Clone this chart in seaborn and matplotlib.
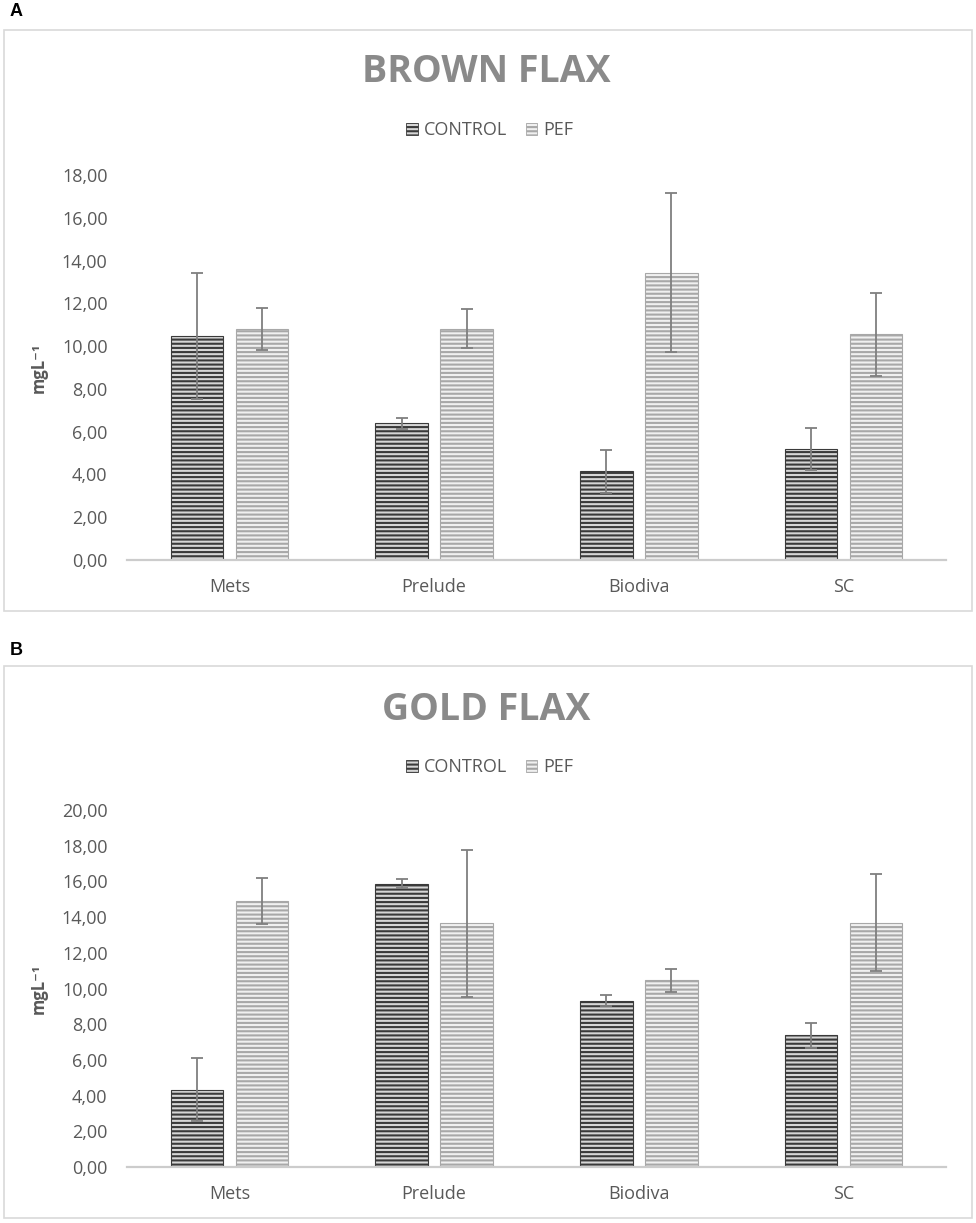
import matplotlib
matplotlib.use("Agg")
import matplotlib.pyplot as plt
from matplotlib.patches import Rectangle, Patch
from matplotlib.ticker import FuncFormatter, MultipleLocator
import seaborn as sns
import pandas as pd

# ---------------- data ----------------
varieties = ["Mets", "Prelude", "Biodiva", "SC"]
treatments = ["CONTROL", "PEF"]

brown_control = [10.48, 6.39, 4.14, 5.19]
brown_control_err = [2.95, 0.26, 1.00, 1.00]
brown_pef = [10.78, 10.81, 13.43, 10.55]
brown_pef_err = [0.98, 0.92, 3.72, 1.94]

gold_control = [4.33, 15.87, 9.31, 7.37]
gold_control_err = [1.76, 0.25, 0.30, 0.69]
gold_pef = [14.88, 13.65, 10.45, 13.69]
gold_pef_err = [1.29, 4.12, 0.62, 2.70]

panels = [
    dict(tag="A", title="BROWN FLAX", control=brown_control, control_err=brown_control_err,
         pef=brown_pef, pef_err=brown_pef_err, ymax=18),
    dict(tag="B", title="GOLD FLAX", control=gold_control, control_err=gold_control_err,
         pef=gold_pef, pef_err=gold_pef_err, ymax=20),
]

# ---------------- style ----------------
sns.set_theme(style="white")
plt.rcParams["font.family"] = ["Open Sans", "DejaVu Sans"]
plt.rcParams["hatch.linewidth"] = 1.5

W, H = 976, 1223
fig = plt.figure(figsize=(W / 100, H / 100), dpi=100)

TEXT = "#595959"
face = {"CONTROL": "#d6d6d6", "PEF": "#f0f0f0"}
stripe = {"CONTROL": "#3a3a3a", "PEF": "#a8a8a8"}

layout = [
    dict(box=(30, 611), ax=(175, 560), title=72, legend=130, tag_y=12),
    dict(box=(666, 1218), ax=(810, 1167), title=710, legend=767, tag_y=650),
]

ax_left, ax_right = 127, 946

def fy(py):
    return 1 - py / H

for p, lay in zip(panels, layout):
    bt, bb = lay["box"]
    fig.add_artist(Rectangle((4 / W, fy(bb)), 968 / W, (bb - bt) / H,
                             transform=fig.transFigure, fill=False,
                             edgecolor="#d9d9d9", linewidth=1.2))
    fig.text(10 / W, fy(lay["tag_y"]), p["tag"], fontsize=13, fontweight="bold",
             family=["Liberation Sans", "DejaVu Sans"], ha="left", va="center", color="black")

    at, ab = lay["ax"]
    ax = fig.add_axes([ax_left / W, fy(ab), (ax_right - ax_left) / W, (ab - at) / H])

    df = pd.DataFrame({
        "variety": varieties * 2,
        "treatment": ["CONTROL"] * 4 + ["PEF"] * 4,
        "value": p["control"] + p["pef"],
    })
    errs = {"CONTROL": p["control_err"], "PEF": p["pef_err"]}

    sns.barplot(data=df, x="variety", y="value", hue="treatment", order=varieties,
                hue_order=treatments, errorbar=None, width=0.634, gap=0.19,
                palette=[face[t] for t in treatments], legend=False, ax=ax)

    for t, cont in zip(treatments, ax.containers):
        xs, ys, es = [], [], []
        for bar in cont.patches:
            bar.set_facecolor(face[t])
            bar.set_edgecolor(stripe[t])
            bar.set_linewidth(0.8)
            bar.set_hatch("----")
            cx = bar.get_x() + bar.get_width() / 2
            idx = int(round(cx))
            xs.append(cx)
            ys.append(bar.get_height())
            es.append(errs[t][idx])
        ax.errorbar(xs, ys, yerr=es, fmt="none", ecolor="#7f7f7f", elinewidth=1.3,
                    capsize=4, capthick=1.3, zorder=5)

    ax.set_xlim(-0.5, 3.5)
    ax.set_ylim(0, p["ymax"])
    ax.yaxis.set_major_locator(MultipleLocator(2))
    ax.yaxis.set_major_formatter(FuncFormatter(lambda v, _: f"{v:.2f}".replace(".", ",")))
    ax.tick_params(axis="y", length=0, pad=14, labelsize=13, labelcolor=TEXT)
    ax.tick_params(axis="x", length=0, pad=13, labelsize=13, labelcolor=TEXT)
    ax.set_xlabel("")
    ax.set_ylabel("mgL\u207b\u00b9", fontsize=12, fontweight="bold", color=TEXT)
    ax.yaxis.set_label_coords((48 - ax_left) / (ax_right - ax_left), 0.5)
    for s in ["left", "top", "right"]:
        ax.spines[s].set_visible(False)
    ax.spines["bottom"].set_color("#cccccc")
    ax.spines["bottom"].set_linewidth(1.6)
    ax.grid(False)
    ax.set_facecolor("none")

    fig.text(486 / W, fy(lay["title"]), p["title"], fontsize=27, fontweight="bold",
             color="#8a8a8a", ha="center", va="center")

    handles = [Patch(facecolor=face[t], edgecolor=stripe[t], hatch="----", linewidth=0.6, label=t)
               for t in treatments]
    fig.legend(handles=handles, loc="center", bbox_to_anchor=(490 / W, fy(lay["legend"])),
               ncol=2, frameon=False, fontsize=13, labelcolor=TEXT, handlelength=0.65,
               handleheight=0.65, handletextpad=0.35, columnspacing=1.0,
               bbox_transform=fig.transFigure)

fig.savefig("out.png", dpi=100, facecolor="white")
